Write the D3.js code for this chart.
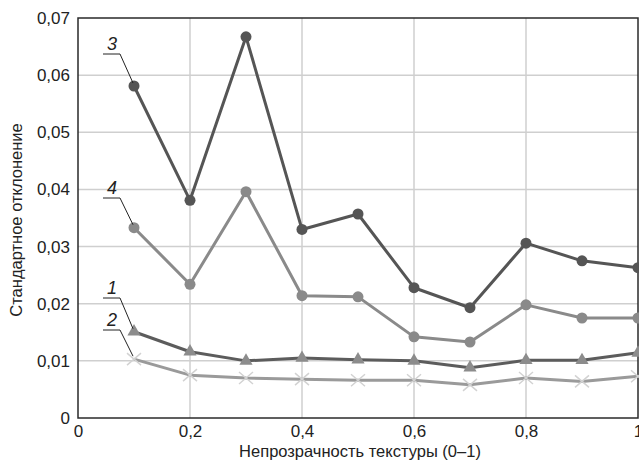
<!DOCTYPE html>
<html><head><meta charset="utf-8">
<script src="https://cdn.jsdelivr.net/npm/d3@7"></script>
<style>body{margin:0;background:#fff}svg{display:block}text{font-family:"Liberation Sans",Arial,sans-serif}</style>
</head><body><svg id="c" width="639" height="462"></svg>
<script>
const xValues = [0.1,0.2,0.3,0.4,0.5,0.6,0.7,0.8,0.9,1.0];
const series3 = [0.0581,0.0381,0.0667,0.0330,0.0357,0.0228,0.0193,0.0306,0.0275,0.0263];
const series4 = [0.0333,0.0234,0.0396,0.0214,0.0212,0.0142,0.0133,0.0198,0.0175,0.0175];
const series1 = [0.0151,0.0116,0.0100,0.0105,0.0102,0.0100,0.0088,0.0101,0.0101,0.0114];
const series2 = [0.0103,0.0075,0.0070,0.0068,0.0066,0.0066,0.0058,0.0070,0.0064,0.0073];
const xTicks = [0,0.2,0.4,0.6,0.8,1];
const yTicks = [0,0.01,0.02,0.03,0.04,0.05,0.06,0.07];
const seriesLabels = ["3","4","1","2"];
const xTitle = "Непрозрачность текстуры (0–1)";
const yTitle = "Стандартное отклонение";

const svg = d3.select("#c");
const L=78, R=638, T=18, B=418;
const x = d3.scaleLinear().domain([0,1]).range([L,R]);
const y = d3.scaleLinear().domain([0,0.07]).range([B,T]);
const fmt = v => String(+v.toFixed(2)).replace(".",",");

// grid
svg.append("g").selectAll("line").data(yTicks.slice(1,-1)).join("line")
  .attr("x1",L).attr("x2",R).attr("y1",d=>y(d)).attr("y2",d=>y(d))
  .attr("stroke","#cfcfcf").attr("stroke-width",1.5);
svg.append("g").selectAll("line").data(xTicks.slice(1,-1)).join("line")
  .attr("y1",T).attr("y2",B).attr("x1",d=>x(d)).attr("x2",d=>x(d))
  .attr("stroke","#cfcfcf").attr("stroke-width",1.5);

// frame
svg.append("rect").attr("x",L).attr("y",T).attr("width",R-L).attr("height",B-T)
  .attr("fill","none").attr("stroke","#2a2a2a").attr("stroke-width",1.5);

const ya = svg.append("g").attr("transform",`translate(${L},0)`)
  .call(d3.axisLeft(y).tickValues(yTicks).tickFormat(fmt).tickSize(0).tickPadding(8));
ya.select(".domain").remove();
ya.selectAll("text").attr("font-size",17).attr("fill","#222").attr("font-family","Liberation Sans, Arial");
const xa = svg.append("g").attr("transform",`translate(0,${B})`)
  .call(d3.axisBottom(x).tickValues(xTicks).tickFormat(fmt).tickSize(0).tickPadding(7));
xa.select(".domain").remove();
xa.selectAll("text").attr("font-size",17).attr("fill","#222").attr("font-family","Liberation Sans, Arial");

svg.append("text").attr("x",(L+R)/2+2).attr("y",457).attr("text-anchor","middle")
  .attr("font-size",16.5).attr("fill","#222").text(xTitle);
svg.append("text").attr("transform",`translate(22,${(T+B)/2+2}) rotate(-90)`).attr("text-anchor","middle")
  .attr("font-size",16.5).attr("fill","#222").text(yTitle);

const line = d3.line().x((d,i)=>x(xValues[i])).y(d=>y(d));

function drawSeries(vals, lineColor, width, marker, markColor){
  svg.append("path").datum(vals).attr("d",line).attr("fill","none")
    .attr("stroke",lineColor).attr("stroke-width",width).attr("stroke-linejoin","round");
  const g = svg.append("g");
  vals.forEach((v,i)=>{
    const cx=x(xValues[i]), cy=y(v);
    if(marker==="circle"){
      g.append("circle").attr("cx",cx).attr("cy",cy).attr("r",5.5).attr("fill",markColor);
    } else if(marker==="tri"){
      g.append("path").attr("d",d3.symbol(d3.symbolTriangle,75)()).attr("transform",`translate(${cx},${cy})`).attr("fill",markColor);
    } else {
      g.append("path").attr("d",`M${cx-7},${cy-6}L${cx+7},${cy+6}M${cx-7},${cy+6}L${cx+7},${cy-6}`)
        .attr("stroke",markColor).attr("stroke-width",1.5).attr("fill","none");
    }
  });
}
drawSeries(series2,"#9a9a9a",3,"cross","#d2d2d2");
drawSeries(series1,"#5c5c5c",3,"tri","#8c8c8c");
drawSeries(series4,"#8a8a8a",3,"circle","#8a8a8a");
drawSeries(series3,"#555555",3,"circle","#555555");

const allSeries = [series3,series4,series1,series2];
const labelY = [54,198,298,330];
allSeries.forEach((s,k)=>{
  const ly = labelY[k];
  const px = x(xValues[0]), py = y(s[0]);
  svg.append("path").attr("d",`M103,${ly}L120,${ly}L${px-1},${py-3}`)
    .attr("fill","none").attr("stroke","#222").attr("stroke-width",1);
  svg.append("text").attr("x",112).attr("y",ly-4).attr("text-anchor","middle")
    .attr("font-size",18).attr("font-style","italic").attr("fill","#222").text(seriesLabels[k]);
});
</script></body></html>
